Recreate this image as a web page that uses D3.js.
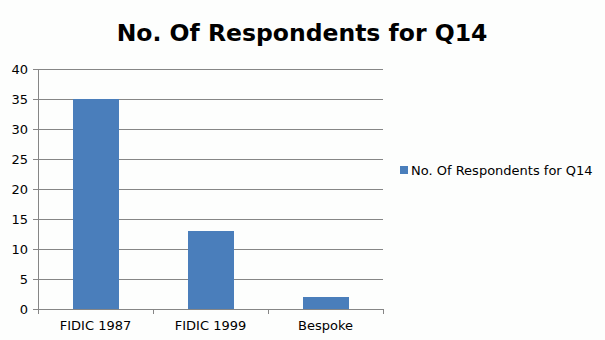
<!DOCTYPE html>
<html>
<head>
<meta charset="utf-8">
<script src="https://cdn.jsdelivr.net/npm/d3@7"></script>
<style>
  body { margin: 0; background: #fdfefd; }
  text { font-family: "DejaVu Sans", sans-serif; fill: #000; }
</style>
</head>
<body>
<div class="container"></div>
<script>
const categories = ['FIDIC 1987', 'FIDIC 1999', 'Bespoke'];
const values = [35, 13, 2];
const yTicks = [0, 5, 10, 15, 20, 25, 30, 35, 40];
const seriesName = 'No. Of Respondents for Q14';
const title = 'No. Of Respondents for Q14';

const width = 605;
const height = 340;
const plot = { left: 38, right: 383, top: 69, bottom: 309 };
const barColor = '#4a7ebb';
const gridColor = '#868686';

const svg = d3.select('.container')
    .append('svg')
    .attr('width', width)
    .attr('height', height);

svg.append('rect')
    .attr('width', width)
    .attr('height', height)
    .attr('fill', '#fdfefd');

const x = d3.scaleBand()
    .domain(categories)
    .range([plot.left, plot.right])
    .paddingInner(0.6)
    .paddingOuter(0.3);
const xOuter = d3.scaleBand()
    .domain(categories)
    .range([plot.left, plot.right]);
const y = d3.scaleLinear().domain([0, 40]).range([plot.bottom, plot.top]);

// gridlines
svg.append('g')
    .selectAll('line')
    .data(yTicks)
    .enter()
    .append('line')
    .attr('x1', plot.left - 5)
    .attr('x2', plot.right)
    .attr('y1', d => Math.round(y(d)) + 0.5)
    .attr('y2', d => Math.round(y(d)) + 0.5)
    .attr('stroke', gridColor)
    .attr('stroke-width', 1);

// y labels
svg.append('g')
    .selectAll('text')
    .data(yTicks)
    .enter()
    .append('text')
    .attr('x', 28)
    .attr('y', d => Math.round(y(d)) + 5)
    .attr('text-anchor', 'end')
    .attr('font-size', 13)
    .text(d => d);

// bars
svg.append('g')
    .selectAll('rect')
    .data(values)
    .enter()
    .append('rect')
    .attr('x', (d, i) => Math.round(x(categories[i])))
    .attr('width', Math.round(x.bandwidth()))
    .attr('y', d => Math.round(y(d)))
    .attr('height', d => Math.round(y(0)) - Math.round(y(d)))
    .attr('fill', barColor);

// axis line
svg.append('line')
    .attr('x1', plot.left + 0.5).attr('x2', plot.left + 0.5)
    .attr('y1', plot.top).attr('y2', plot.bottom + 5)
    .attr('stroke', gridColor);

// category ticks
svg.append('g')
    .selectAll('line')
    .data(categories.concat(['end']))
    .enter()
    .append('line')
    .attr('x1', (d, i) => Math.round(plot.left + i * xOuter.bandwidth()) + 0.5)
    .attr('x2', (d, i) => Math.round(plot.left + i * xOuter.bandwidth()) + 0.5)
    .attr('y1', plot.bottom)
    .attr('y2', plot.bottom + 5)
    .attr('stroke', gridColor);

// x labels
svg.append('g')
    .selectAll('text')
    .data(categories)
    .enter()
    .append('text')
    .attr('x', d => xOuter(d) + xOuter.bandwidth() / 2)
    .attr('y', 330)
    .attr('text-anchor', 'middle')
    .attr('font-size', 13)
    .text(d => d);

// title
svg.append('text')
    .attr('x', 302)
    .attr('y', 41)
    .attr('text-anchor', 'middle')
    .attr('font-size', 23.5)
    .attr('font-weight', 'bold')
    .text(title);

// legend
svg.append('rect')
    .attr('x', 400)
    .attr('y', 166)
    .attr('width', 8)
    .attr('height', 8)
    .attr('fill', barColor);
svg.append('text')
    .attr('x', 411)
    .attr('y', 175)
    .attr('font-size', 13)
    .text(seriesName);
</script>
</body>
</html>
